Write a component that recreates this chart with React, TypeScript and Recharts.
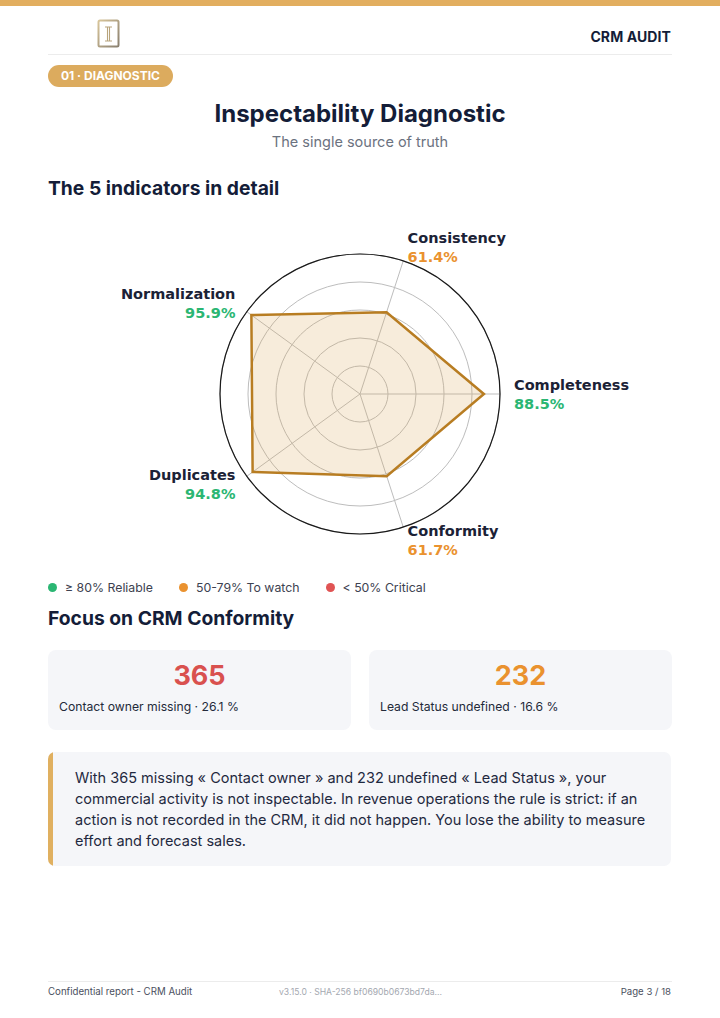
import React from 'react';
import { RadarChart, Radar, PolarGrid, PolarAngleAxis, PolarRadiusAxis } from 'recharts';

const indicators = ['Completeness', 'Consistency', 'Normalization', 'Duplicates', 'Conformity'];
const scores = [88.5, 61.4, 95.9, 94.8, 61.7];
const radiusTicks = [0, 20, 40, 60, 80, 100];

const legendItems = ['≥ 80% Reliable', '50-79% To watch', '< 50% Critical'];
const legendColors = ['#2bb673', '#ea922f', '#e05454'];

const cardValues = [365, 232];
const cardLabels = ['Contact owner missing · 26.1 %', 'Lead Status undefined · 16.6 %'];
const cardColors = ['#d9514f', '#ea922f'];

const quoteLines = [
  'With 365 missing « Contact owner » and 232 undefined « Lead Status », your',
  'commercial activity is not inspectable. In revenue operations the rule is strict: if an',
  'action is not recorded in the CRM, it did not happen. You lose the ability to measure',
  'effort and forecast sales.',
];

const data = indicators.map((name, i) => ({ name, score: scores[i] }));

const scoreColor = (v: number) => (v >= 80 ? legendColors[0] : v >= 50 ? legendColors[1] : legendColors[2]);

const FONT = 'Inter, "Noto Sans", sans-serif';
const DARK = '#141d38';
const CX = 360;
const CY = 179;
const OUTER = 140;
const LABEL_R = 154;

const LabelDot = (props: any) => {
  const { cx, cy, index } = props;
  if (cx == null || cy == null) return null;
  const a = Math.atan2(CY - cy, cx - CX);
  const x = CX + LABEL_R * Math.cos(a);
  const y = CY - LABEL_R * Math.sin(a);
  const c = Math.cos(a);
  const anchor = c > 1e-3 ? 'start' : c < -1e-3 ? 'end' : 'middle';
  const v = scores[index];
  return (
    <g key={`lbl-${index}`}>
      <text x={x} y={y - 9.5} textAnchor={anchor} dominantBaseline="central"
        fontFamily="DejaVu Sans" fontWeight="bold" fontSize={14.5} fill="#1b2236">
        {indicators[index]}
      </text>
      <text x={x} y={y + 9.5} textAnchor={anchor} dominantBaseline="central"
        fontFamily="DejaVu Sans" fontWeight="bold" fontSize={14.5} fill={scoreColor(v)}>
        {v.toFixed(1)}%
      </text>
    </g>
  );
};

export default function App() {
  return (
    <div style={{ position: 'absolute', top: 0, left: 0, width: 720, height: 1018, background: '#fff', fontFamily: FONT, overflow: 'hidden' }}>
      <div style={{ position: 'absolute', top: 0, left: 0, width: 720, height: 6, background: '#e2ae5f' }} />
      {/* logo */}
      <svg style={{ position: 'absolute', left: 97, top: 19 }} width={24} height={30}>
        <defs>
          <linearGradient id="lg" x1="0" y1="0" x2="1" y2="1">
            <stop offset="0" stopColor="#d8c59a" />
            <stop offset="1" stopColor="#8a8070" />
          </linearGradient>
        </defs>
        <rect x={1.5} y={1.5} width={20} height={26} rx={1.5} fill="#fff" stroke="url(#lg)" strokeWidth={2} />
        <path d="M8 8 H15 M8 22 H15 M10.5 8 V22 M12.5 8 V22" stroke="#b8a47c" strokeWidth={1.1} fill="none" />
      </svg>
      <div style={{ position: 'absolute', right: 49, top: 28, fontSize: 14, fontWeight: 700, color: DARK, letterSpacing: 0.1 }}>CRM AUDIT</div>
      <div style={{ position: 'absolute', left: 48, top: 54, width: 624, height: 1, background: '#ececec' }} />
      <div style={{ position: 'absolute', left: 48, top: 65, width: 125, height: 22, borderRadius: 11, background: '#dcab5e', color: '#fff', fontSize: 12, fontWeight: 700, lineHeight: '22px', textAlign: 'center' }}>01 · DIAGNOSTIC</div>

      <div style={{ position: 'absolute', left: 0, width: 720, top: 99, textAlign: 'center', fontSize: 24, fontWeight: 700, color: DARK }}>Inspectability Diagnostic</div>
      <div style={{ position: 'absolute', left: 0, width: 720, top: 133, textAlign: 'center', fontSize: 14.5, color: '#6b7280' }}>The single source of truth</div>

      <div style={{ position: 'absolute', left: 48, top: 176, fontSize: 19.3, fontWeight: 700, color: DARK }}>The 5 indicators in detail</div>

      <div style={{ position: 'absolute', left: 0, top: 215, width: 720, height: 360 }}>
        <RadarChart width={720} height={360} cx={CX} cy={CY} outerRadius={OUTER} data={data}
          startAngle={-72} endAngle={288} margin={{ top: 0, right: 0, bottom: 0, left: 0 }}>
          <PolarGrid gridType="circle" stroke="#bdbdbd" strokeWidth={1} />
          <PolarRadiusAxis domain={[0, 100]} ticks={radiusTicks as any} tick={false} axisLine={false} />
          <PolarAngleAxis dataKey="name" tick={false} tickLine={false}
            axisLine={{ stroke: '#1a1a1a', strokeWidth: 1.2 }} axisLineType="circle" />
          <Radar dataKey="score" stroke="#b87d22" strokeWidth={2.5} fill="#dba95c" fillOpacity={0.22}
            dot={<LabelDot />} isAnimationActive={false} />
        </RadarChart>
      </div>

      <div style={{ position: 'absolute', left: 48, top: 580, display: 'flex', fontSize: 12.3, color: '#3d4250' }}>
        {legendItems.map((t, i) => (
          <div key={t} style={{ display: 'flex', alignItems: 'center', marginRight: 26 }}>
            <span style={{ width: 9, height: 9, borderRadius: 5, background: legendColors[i], marginRight: 8, display: 'inline-block' }} />
            <span>{t}</span>
          </div>
        ))}
      </div>

      <div style={{ position: 'absolute', left: 48, top: 606, fontSize: 19.3, fontWeight: 700, color: DARK }}>Focus on CRM Conformity</div>

      {cardValues.map((v, i) => (
        <div key={i} style={{ position: 'absolute', left: i === 0 ? 48 : 369, top: 650, width: 303, height: 80, borderRadius: 8, background: '#f5f6f9' }}>
          <div style={{ position: 'absolute', top: 9, width: '100%', textAlign: 'center', fontSize: 27, fontWeight: 700, color: cardColors[i] }}>{v}</div>
          <div style={{ position: 'absolute', top: 49, left: 11, fontSize: 12.2, color: '#232a3a' }}>{cardLabels[i]}</div>
        </div>
      ))}

      <div style={{ position: 'absolute', left: 48, top: 752, width: 623, height: 114, borderRadius: 7, background: '#f5f6f9', overflow: 'hidden' }}>
        <div style={{ position: 'absolute', left: 0, top: 0, width: 5, height: '100%', background: '#e0b060' }} />
        <div style={{ position: 'absolute', left: 27, top: 15, fontSize: 14.5, lineHeight: '21px', color: '#1f2940', whiteSpace: 'nowrap' }}>
          {quoteLines.map((l) => <div key={l}>{l}</div>)}
        </div>
      </div>

      <div style={{ position: 'absolute', left: 48, top: 981, width: 624, height: 1, background: '#ececec' }} />
      <div style={{ position: 'absolute', left: 48, top: 986, fontSize: 9.7, color: '#4b5060' }}>Confidential report - CRM Audit</div>
      <div style={{ position: 'absolute', left: 279, top: 987, fontSize: 8.6, color: '#a4a8b0' }}>v3.15.0 · SHA-256 bf0690b0673bd7da...</div>
      <div style={{ position: 'absolute', right: 49, top: 986, fontSize: 9.6, color: '#4b5060' }}>Page 3 / 18</div>
    </div>
  );
}
